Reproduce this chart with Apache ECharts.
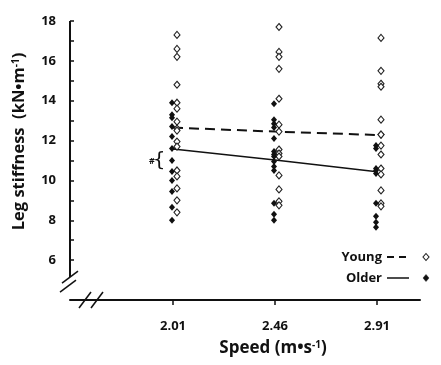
<!DOCTYPE html>
<html><head><meta charset="utf-8">
<script src="https://cdn.jsdelivr.net/npm/echarts@6/dist/echarts.min.js"></script>
<style>html,body{margin:0;padding:0;background:#fff}#c{width:441px;height:365px}</style>
</head><body><div id="c"></div>
<script>
// ---- data ----
const speeds = [2.01, 2.46, 2.91];
const speedLabels = ['2.01', '2.46', '2.91'];
const yTickValues = [6, 7, 8, 9, 10, 11, 12, 13, 14, 15, 16, 17, 18];
const yLabelValues = [6, 8, 10, 12, 14, 16, 18];

const young201 = [17.3, 16.6, 16.2, 14.8, 13.9, 13.6, 12.95, 12.6, 12.5, 11.95, 11.7, 10.5, 10.2, 9.6, 9.0, 8.4];
const young246 = [17.7, 16.45, 16.2, 15.6, 14.1, 12.8, 12.45, 11.55, 11.35, 11.2, 10.25, 9.55, 8.95, 8.75];
const young291 = [17.15, 15.5, 14.85, 14.7, 13.05, 12.3, 12.3, 11.75, 11.3, 10.6, 10.3, 9.5, 8.85, 8.7];

const older201 = [13.9, 13.3, 13.15, 12.7, 12.2, 11.6, 11.0, 10.45, 10.0, 9.45, 8.65, 8.0];
const older246 = [13.85, 13.05, 12.85, 12.65, 12.1, 11.45, 11.3, 11.2, 10.95, 10.7, 10.5, 8.85, 8.3, 8.0];
const older291 = [11.75, 11.6, 10.6, 10.5, 10.35, 8.85, 8.2, 7.9, 7.65];

const youngMean = [12.65, 12.45, 12.28];
const olderMean = [11.58, 11.02, 10.44];

// ---- build ----
(function () {
const FONT = '"Open Sans", "Noto Sans", sans-serif';
const xMin = 1.5556, xMax = 3.0997;
function pts(speed, arr) { return arr.map(v => [speed, v]); }
const youngPts = [].concat(pts(speeds[0], young201), pts(speeds[1], young246), pts(speeds[2], young291));
const olderPts = [].concat(pts(speeds[0], older201), pts(speeds[1], older246), pts(speeds[2], older291));

const chart = echarts.init(document.getElementById('c'), null, {renderer: 'canvas'});
const option = {
  animation: false,
  backgroundColor: '#fff',
  grid: {left: 70, top: 21, right: 21, bottom: 65},
  xAxis: {
    type: 'value', min: xMin, max: xMax,
    name: 'Speed (m•s{sup|-1})',
    nameLocation: 'middle', nameGap: 40,
    nameTextStyle: {fontFamily: FONT, fontWeight: 'bold', fontSize: 17, color: '#111', padding: [0, 0, 0, 56],
      rich: {sup: {fontFamily: FONT, fontWeight: 'bold', fontSize: 10, verticalAlign: 'top', color: '#111', padding: [0, 0, 6, 0]}}},
    axisLine: {show: true, lineStyle: {color: '#111', width: 2}},
    axisTick: {show: true, customValues: speeds, length: 5, lineStyle: {color: '#111', width: 1.5}},
    axisLabel: {customValues: speeds, formatter: v => speedLabels[speeds.indexOf(+(+v).toFixed(2))] || '',
      fontFamily: FONT, fontWeight: 'bold', fontSize: 13, color: '#111', margin: 20},
    splitLine: {show: false}
  },
  yAxis: {
    type: 'value', min: 4, max: 18, interval: 2,
    name: 'Leg stiffness  (kN•m{sup|-1})',
    nameLocation: 'middle', nameGap: 42,
    nameTextStyle: {fontFamily: FONT, fontWeight: 'bold', fontSize: 16.5, color: '#111', padding: [0, 0, 0, 38],
      rich: {sup: {fontFamily: FONT, fontWeight: 'bold', fontSize: 10, verticalAlign: 'top', color: '#111'}}},
    axisLine: {show: false},
    axisTick: {show: true, inside: true, length: 4, customValues: yTickValues, lineStyle: {color: '#111', width: 1.5}},
    axisLabel: {customValues: yLabelValues, fontFamily: FONT, fontWeight: 'bold', fontSize: 13, color: '#111', margin: 14},
    splitLine: {show: false}
  },
  series: [
    {name: 'Young', type: 'line', data: speeds.map((s, i) => [s, youngMean[i]]), showSymbol: false, symbol: 'none',
      lineStyle: {color: '#111', width: 2, type: [10, 6]}, z: 3},
    {name: 'Older', type: 'line', data: speeds.map((s, i) => [s, olderMean[i]]), showSymbol: false, symbol: 'none',
      lineStyle: {color: '#111', width: 1.5}, z: 3},
    {name: 'Young', type: 'scatter', data: youngPts, symbol: 'diamond', symbolSize: [6, 7], symbolOffset: [4, 0],
      itemStyle: {color: '#fff', borderColor: '#222', borderWidth: 1.1, opacity: 1}, z: 4},
    {name: 'Older', type: 'scatter', data: olderPts, symbol: 'diamond', symbolSize: [6, 7], symbolOffset: [-1, 0],
      itemStyle: {color: '#111', opacity: 1}, z: 5}
  ]
};
chart.setOption(option);

const P = (x, y) => chart.convertToPixel({gridIndex: 0}, [x, y]);
const pTop = P(xMin, 18);
const yBrk = P(xMin, 5.15);
const org = P(xMin, 4);
const ax = pTop[0];
const g = [];
const blk = {stroke: '#111', lineWidth: 2};
g.push({type: 'line', shape: {x1: ax, y1: pTop[1], x2: ax, y2: yBrk[1]}, style: blk});
g.push({type: 'line', shape: {x1: ax - 8, y1: yBrk[1] + 6, x2: ax + 8, y2: yBrk[1] - 6}, style: {stroke: '#111', lineWidth: 1.5}});
g.push({type: 'line', shape: {x1: ax - 10, y1: yBrk[1] + 15, x2: ax + 6, y2: yBrk[1] + 3}, style: {stroke: '#111', lineWidth: 1.5}});
const xb1 = ax + 15, xb2 = ax + 27, oy = org[1];
g.push({type: 'rect', shape: {x: xb1, y: oy - 2, width: xb2 - xb1, height: 4}, style: {fill: '#fff'}});
g.push({type: 'line', shape: {x1: xb1 - 6, y1: oy + 8, x2: xb1 + 6, y2: oy - 8}, style: {stroke: '#111', lineWidth: 1.5}});
g.push({type: 'line', shape: {x1: xb2 - 6, y1: oy + 8, x2: xb2 + 6, y2: oy - 8}, style: {stroke: '#111', lineWidth: 1.5}});
const ann = P(speeds[0], 10.95);
g.push({type: 'text', x: ann[0] - 21, y: ann[1], style: {text: '#', font: 'bold 9px ' + FONT, fill: '#111', align: 'center', verticalAlign: 'middle'}});
g.push({type: 'text', x: ann[0] - 14, y: ann[1] - 1, style: {text: '{', font: '20px "DejaVu Sans"', fill: '#111', align: 'center', verticalAlign: 'middle'}});
const lx = 382;
function legendRow(y, label, dashed, filled) {
  g.push({type: 'text', x: lx, y: y, style: {text: label, font: 'bold 13px ' + FONT, fill: '#111', align: 'right', verticalAlign: 'middle'}});
  g.push({type: 'line', shape: {x1: lx + 5, y1: y, x2: lx + 27, y2: y}, style: {stroke: '#111', lineWidth: dashed ? 2 : 1.5, lineDash: dashed ? [7, 5] : null}});
  const cx = lx + 44;
  g.push({type: 'polygon', shape: {points: [[cx, y - 3.5], [cx + 3, y], [cx, y + 3.5], [cx - 3, y]]},
    style: {fill: filled ? '#111' : '#fff', stroke: '#222', lineWidth: filled ? 0.5 : 1.1}});
}
legendRow(257, 'Young', true, false);
legendRow(278, 'Older', false, true);
chart.setOption({graphic: g});
})();
</script></body></html>
